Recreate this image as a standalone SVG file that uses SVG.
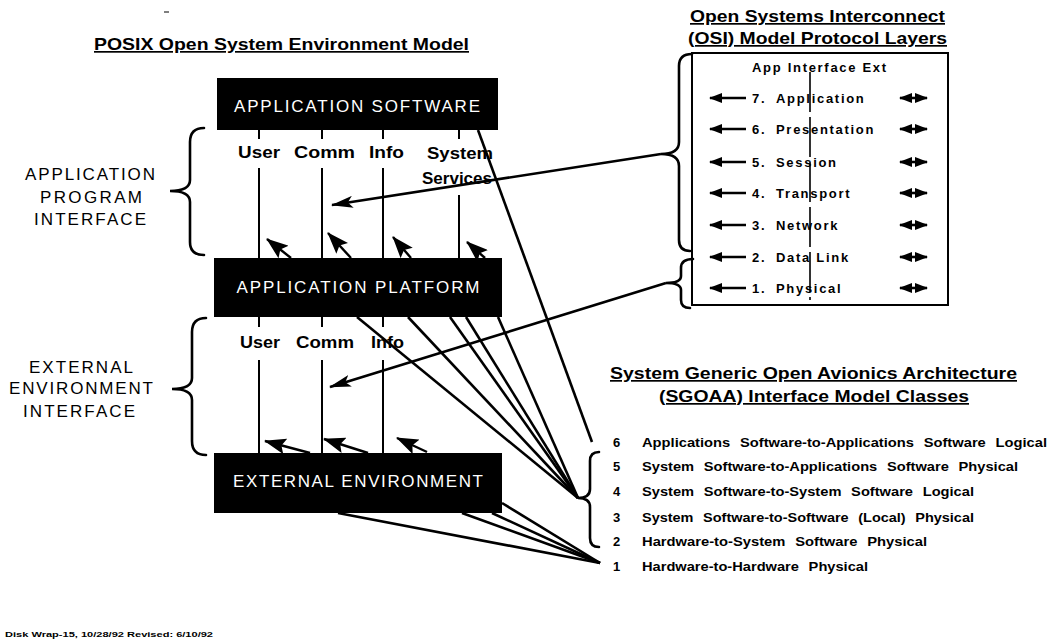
<svg xmlns="http://www.w3.org/2000/svg" width="1051" height="642" viewBox="0 0 1051 642">
  <style>
    .box { fill: #000; }
    .boxlbl { font-family: "Liberation Sans", Arial, sans-serif; font-size: 17px; fill: #fff; text-anchor: middle; }
    .side { font-family: "Liberation Sans", Arial, sans-serif; font-size: 17px; fill: #000; text-anchor: middle; }
    .iface { font-family: "Liberation Sans", Arial, sans-serif; font-size: 17px; font-weight: bold; fill: #000; }
    .title { font-family: "Liberation Sans", Arial, sans-serif; font-size: 17px; font-weight: bold; fill: #000; text-decoration: underline; }
    .osi { font-family: "Liberation Sans", Arial, sans-serif; font-size: 13px; font-weight: bold; fill: #000; letter-spacing: 1.7px; }
    .cls { font-family: "Liberation Sans", Arial, sans-serif; font-size: 13px; font-weight: bold; fill: #000; word-spacing: 5px; }
    .foot { font-family: "Liberation Sans", Arial, sans-serif; font-size: 8px; font-weight: bold; fill: #000; }
    .wire { stroke: #000; stroke-width: 2; fill: none; }
    .conn { stroke: #000; stroke-width: 2.6; fill: none; }
    .brace { stroke: #000; stroke-width: 2.6; fill: none; stroke-linecap: round; }
    .stub { stroke: #000; stroke-width: 2.4; fill: none; marker-end: url(#stubHead); }
    .osiarrow { stroke: #000; stroke-width: 2.6; fill: none; }
  </style>
  <defs>
    <marker id="bigHead" viewBox="0 0 22 12" refX="21" refY="6" markerWidth="22" markerHeight="12" markerUnits="userSpaceOnUse" orient="auto">
      <path d="M0,0 L22,6 L0,12 L5,6 z" fill="#000"/>
    </marker>
    <marker id="stubHead" viewBox="0 0 22 16" refX="21" refY="8" markerWidth="22" markerHeight="16" markerUnits="userSpaceOnUse" orient="auto">
      <path d="M0,0 L22,8 L0,16 L4,8 z" fill="#000"/>
    </marker>
    <marker id="smallHead" viewBox="0 0 13 10" refX="12" refY="5" markerWidth="13" markerHeight="10" markerUnits="userSpaceOnUse" orient="auto-start-reverse">
      <path d="M0,0 L13,5 L0,10 z" fill="#000"/>
    </marker>
  </defs>

  <rect width="1051" height="642" fill="#fff"/>
  <line x1="164" y1="12" x2="169" y2="12" stroke="#555" stroke-width="1.5"/>

  <!-- POSIX model heading -->
  <text class="title" x="94" y="50" textLength="375" lengthAdjust="spacingAndGlyphs">POSIX Open System Environment Model</text>

  <!-- Side labels with their braces -->
  <g id="api-label">
    <text class="side" x="90" y="180" textLength="130" lengthAdjust="spacing">APPLICATION</text>
    <text class="side" x="91" y="203" textLength="102" lengthAdjust="spacing">PROGRAM</text>
    <text class="side" x="90" y="225" textLength="112" lengthAdjust="spacing">INTERFACE</text>
    <path class="brace" d="M204,128 Q190,128 190,142 L190,180 Q190,191 170,191 Q190,191 190,202 L190,242 Q190,255 204,255"/>
  </g>
  <g id="eei-label">
    <text class="side" x="81" y="373" textLength="104" lengthAdjust="spacing">EXTERNAL</text>
    <text class="side" x="81" y="394" textLength="144" lengthAdjust="spacing">ENVIRONMENT</text>
    <text class="side" x="79" y="417" textLength="112" lengthAdjust="spacing">INTERFACE</text>
    <path class="brace" d="M206,318 Q192,318 192,332 L192,378 Q192,389 172,389 Q192,389 192,400 L192,441 Q192,455 206,455"/>
  </g>

  <!-- Layer boxes -->
  <g id="application-software">
    <rect class="box" x="217" y="78" width="281" height="52"/>
    <text class="boxlbl" x="357" y="112" textLength="246" lengthAdjust="spacing">APPLICATION SOFTWARE</text>
  </g>
  <g id="application-platform">
    <rect class="box" x="214" y="258" width="288" height="59"/>
    <text class="boxlbl" x="358" y="293" textLength="243" lengthAdjust="spacing">APPLICATION PLATFORM</text>
  </g>
  <g id="external-environment">
    <rect class="box" x="214" y="453" width="288" height="60"/>
    <text class="boxlbl" x="358" y="487" textLength="250" lengthAdjust="spacing">EXTERNAL ENVIRONMENT</text>
  </g>

  <!-- Service labels between layers -->
  <g id="api-services">
    <text class="iface" x="238" y="158" textLength="42" lengthAdjust="spacingAndGlyphs">User</text>
    <text class="iface" x="294" y="158" textLength="61" lengthAdjust="spacingAndGlyphs">Comm</text>
    <text class="iface" x="369" y="158" textLength="35" lengthAdjust="spacingAndGlyphs">Info</text>
    <text class="iface" x="427" y="159" textLength="66" lengthAdjust="spacingAndGlyphs">System</text>
    <text class="iface" x="422" y="184" textLength="70" lengthAdjust="spacingAndGlyphs">Services</text>
  </g>
  <g id="eei-services">
    <text class="iface" x="240" y="348" textLength="40" lengthAdjust="spacingAndGlyphs">User</text>
    <text class="iface" x="296" y="348" textLength="58" lengthAdjust="spacingAndGlyphs">Comm</text>
    <text class="iface" x="371" y="348" textLength="33" lengthAdjust="spacingAndGlyphs">Info</text>
  </g>

  <!-- OSI model -->
  <g id="osi-heading">
    <text class="title" x="690" y="22" textLength="255" lengthAdjust="spacingAndGlyphs">Open Systems Interconnect</text>
    <text class="title" x="688" y="44" textLength="259" lengthAdjust="spacingAndGlyphs">(OSI) Model Protocol Layers</text>
  </g>
  <g id="osi-layers">
    <rect x="692" y="53" width="256" height="252" fill="none" stroke="#000" stroke-width="2"/>
    <line x1="810" y1="72" x2="810" y2="300" stroke="#000" stroke-width="1.6" stroke-dasharray="40 5"/>
    <text class="osi" x="752" y="72">App Interface Ext</text>
    <g class="osi">
      <text x="752" y="103">7.</text><text x="776" y="103">Application</text>
      <text x="752" y="134">6.</text><text x="776" y="134">Presentation</text>
      <text x="752" y="167">5.</text><text x="776" y="167">Session</text>
      <text x="752" y="198">4.</text><text x="776" y="198">Transport</text>
      <text x="752" y="230">3.</text><text x="776" y="230">Network</text>
      <text x="752" y="262">2.</text><text x="776" y="262">Data Link</text>
      <text x="752" y="293">1.</text><text x="776" y="293">Physical</text>
    </g>
    <g class="osiarrow">
      <line x1="746" y1="98" x2="710" y2="98" marker-end="url(#smallHead)"/>
      <line x1="746" y1="129" x2="710" y2="129" marker-end="url(#smallHead)"/>
      <line x1="746" y1="162" x2="710" y2="162" marker-end="url(#smallHead)"/>
      <line x1="746" y1="193" x2="710" y2="193" marker-end="url(#smallHead)"/>
      <line x1="746" y1="225" x2="710" y2="225" marker-end="url(#smallHead)"/>
      <line x1="746" y1="257" x2="710" y2="257" marker-end="url(#smallHead)"/>
      <line x1="746" y1="288" x2="710" y2="288" marker-end="url(#smallHead)"/>
      <line x1="900" y1="98" x2="927" y2="98" marker-start="url(#smallHead)" marker-end="url(#smallHead)"/>
      <line x1="900" y1="129" x2="927" y2="129" marker-start="url(#smallHead)" marker-end="url(#smallHead)"/>
      <line x1="900" y1="162" x2="927" y2="162" marker-start="url(#smallHead)" marker-end="url(#smallHead)"/>
      <line x1="900" y1="193" x2="927" y2="193" marker-start="url(#smallHead)" marker-end="url(#smallHead)"/>
      <line x1="900" y1="225" x2="927" y2="225" marker-start="url(#smallHead)" marker-end="url(#smallHead)"/>
      <line x1="900" y1="257" x2="927" y2="257" marker-start="url(#smallHead)" marker-end="url(#smallHead)"/>
      <line x1="900" y1="288" x2="927" y2="288" marker-start="url(#smallHead)" marker-end="url(#smallHead)"/>
    </g>
    <path class="brace" d="M692,54 Q679,54 679,66 L679,142 Q679,154 661,154 Q679,154 679,166 L679,240 Q679,251 690,251"/>
    <path class="brace" d="M693,259 Q681,259 681,268 L681,276 Q681,283 666,283 Q681,283 681,290 L681,300 Q681,308 690,308"/>
  </g>

  <!-- SGOAA interface classes -->
  <g id="sgoaa-classes">
    <text class="title" x="610" y="379" textLength="407" lengthAdjust="spacingAndGlyphs">System Generic Open Avionics Architecture</text>
    <text class="title" x="659" y="402" textLength="310" lengthAdjust="spacingAndGlyphs">(SGOAA) Interface Model Classes</text>
    <g class="cls">
      <text x="613" y="447">6</text><text x="642" y="447" textLength="405" lengthAdjust="spacingAndGlyphs">Applications Software-to-Applications Software Logical</text>
      <text x="613" y="471">5</text><text x="642" y="471" textLength="376" lengthAdjust="spacingAndGlyphs">System Software-to-Applications Software Physical</text>
      <text x="613" y="496">4</text><text x="642" y="496" textLength="332" lengthAdjust="spacingAndGlyphs">System Software-to-System Software Logical</text>
      <text x="613" y="522">3</text><text x="642" y="522" textLength="332" lengthAdjust="spacingAndGlyphs">System Software-to-Software (Local) Physical</text>
      <text x="613" y="546">2</text><text x="642" y="546" textLength="285" lengthAdjust="spacingAndGlyphs">Hardware-to-System Software Physical</text>
      <text x="613" y="571">1</text><text x="642" y="571" textLength="226" lengthAdjust="spacingAndGlyphs">Hardware-to-Hardware Physical</text>
    </g>
    <path class="brace" d="M599,452 Q590,452 590,461 L590,489 Q590,498 578,498 Q590,498 590,507 L590,538 Q590,547 599,547"/>
  </g>

  <!-- Connectors -->
  <g id="connectors">
    <!-- service interface lines, API -->
    <line class="wire" x1="259" y1="130" x2="259" y2="139"/>
    <line class="wire" x1="322" y1="130" x2="322" y2="139"/>
    <line class="wire" x1="383" y1="130" x2="383" y2="139"/>
    <line class="wire" x1="459" y1="130" x2="459" y2="139"/>
    <line class="wire" x1="259" y1="168" x2="259" y2="258"/>
    <line class="wire" x1="322" y1="168" x2="322" y2="258"/>
    <line class="wire" x1="383" y1="168" x2="383" y2="258"/>
    <line class="wire" x1="459" y1="195" x2="459" y2="258"/>
    <!-- service interface lines, EEI -->
    <line class="wire" x1="259" y1="317" x2="259" y2="327"/>
    <line class="wire" x1="322" y1="317" x2="322" y2="327"/>
    <line class="wire" x1="383" y1="317" x2="383" y2="327"/>
    <line class="wire" x1="259" y1="360" x2="259" y2="453"/>
    <line class="wire" x1="322" y1="360" x2="322" y2="453"/>
    <line class="wire" x1="383" y1="360" x2="383" y2="453"/>
    <!-- short arrows off the platform and environment tops -->
    <line class="stub" x1="291" y1="258" x2="267" y2="239"/>
    <line class="stub" x1="351" y1="258" x2="328" y2="233"/>
    <line class="stub" x1="411" y1="258" x2="393" y2="237"/>
    <line class="stub" x1="485" y1="258" x2="467" y2="242"/>
    <line class="stub" x1="310" y1="453" x2="265" y2="441"/>
    <line class="stub" x1="368" y1="453" x2="324" y2="439"/>
    <line class="stub" x1="427" y1="452" x2="397" y2="438"/>
    <!-- OSI layer groups onto the interfaces -->
    <line class="conn" x1="661" y1="154" x2="332" y2="205" marker-end="url(#bigHead)"/>
    <line class="conn" x1="666" y1="283" x2="330" y2="387" marker-end="url(#bigHead)"/>
    <!-- class 6 -->
    <line class="conn" x1="478" y1="130" x2="592" y2="442"/>
    <!-- classes 2-5 from the platform -->
    <line class="conn" x1="357" y1="317" x2="578" y2="498"/>
    <line class="conn" x1="408" y1="317" x2="578" y2="498"/>
    <line class="conn" x1="450" y1="317" x2="578" y2="498"/>
    <line class="conn" x1="466" y1="317" x2="578" y2="498"/>
    <line class="conn" x1="498" y1="317" x2="578" y2="498"/>
    <!-- class 1 from the environment -->
    <line class="conn" x1="338" y1="513" x2="600" y2="563"/>
    <line class="conn" x1="462" y1="513" x2="600" y2="563"/>
    <line class="conn" x1="492" y1="513" x2="600" y2="563"/>
    <line class="conn" x1="502" y1="503" x2="600" y2="563"/>
  </g>

  <text class="foot" x="5" y="637" textLength="208" lengthAdjust="spacingAndGlyphs">Disk Wrap-15, 10/28/92 Revised: 6/10/92</text>
</svg>
